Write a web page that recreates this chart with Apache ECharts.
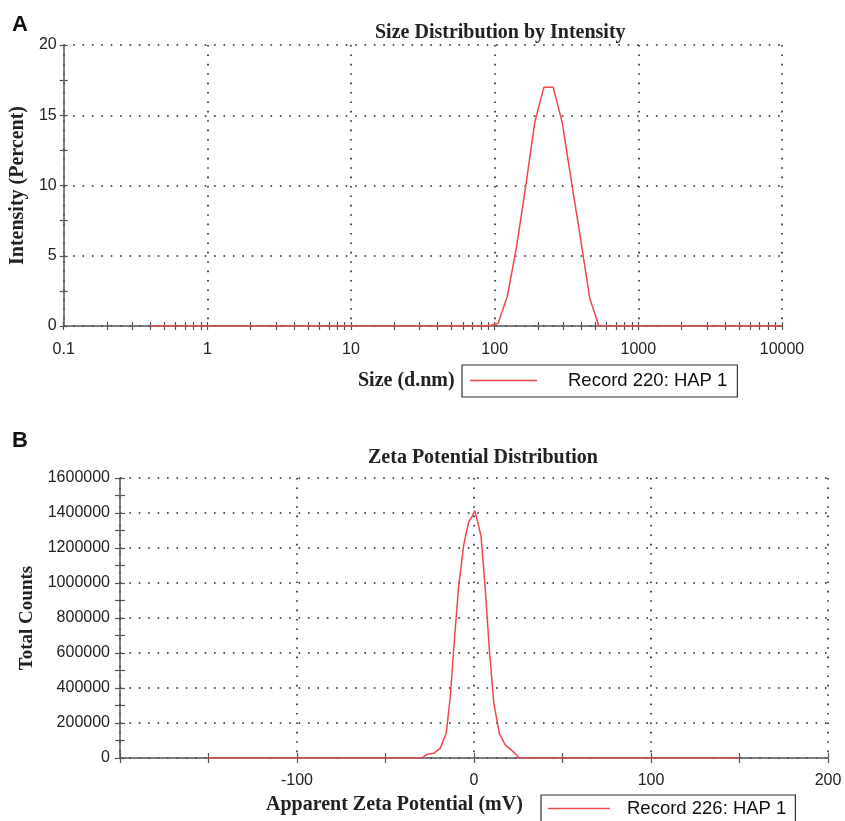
<!DOCTYPE html>
<html>
<head>
<meta charset="utf-8">
<script src="https://cdn.jsdelivr.net/npm/echarts@6/dist/echarts.min.js"></script>
<style>
  html,body{margin:0;padding:0;background:#fff;}
  #main{width:845px;height:821px;}
</style>
</head>
<body>
<div id="main"></div>
<script>
// panel A: size distribution by intensity
const sizeNm = [0.4, 91.28, 105.7, 122.4, 141.8, 164.2, 190.1, 220.2, 255.0, 295.3, 342.0, 396.1, 458.7, 531.2, 10000];
const intensity = [0, 0, 0.2, 2.1, 5.6, 9.9, 14.5, 17.0, 17.0, 14.5, 10.3, 6.2, 2.0, 0, 0];
const sizeDecades = [0.1, 1, 10, 100, 1000, 10000];
const sizeMinorTicks = [0.2,0.3,0.4,0.5,0.6,0.7,0.8,0.9,2,3,4,5,6,7,8,9,20,30,40,50,60,70,80,90,
    200,300,400,500,600,700,800,900,2000,3000,4000,5000,6000,7000,8000,9000];

// panel B: zeta potential distribution
const zetaMv = [-150, -29.5, -26.6, -22.8, -19.1, -15.7, -13.4, -11.5, -8.7, -5.8, -3.0, -1.1, 0.4, 2.3, 4.0, 6.4, 8.7, 11.2, 14.3, 17.7, 21.5, 25.7, 150];
const totalCounts = [0, 0, 21000, 27000, 55000, 141000, 350000, 617000, 979000, 1217000, 1350000, 1379000, 1413000,
    1341000, 1265000, 960000, 617000, 313000, 141000, 74000, 42000, 0, 0];

const RED = '#f04848';
const AXIS = '#555';
const SANS = 'Liberation Sans';
const SERIF = 'Liberation Serif';

function pairs(xs, ys){
    return xs.map((x,i)=>[x, ys[i]]);
}

const dotted = {show:true, lineStyle:{color:'#222', width:1.6, type:[1.6,7.8]}};
const tickLabel = {color:'#222', fontFamily:SANS, fontSize:16};
const headText = {fontFamily:SERIF, fontWeight:'bold', fontSize:20, color:'#222'};
const letterText = {fontFamily:SANS, fontWeight:'bold', fontSize:22, color:'#111'};
const legendText = {fontFamily:SANS, fontSize:18.5, color:'#111', lineHeight:19};
const tickStyle = {color:AXIS, width:1.2};

// an extra axis that only draws the inner half of the ticks, so they cross the axis line
function innerTicks(base){
    return Object.assign({
        axisLine:{show:false, onZero:false},
        axisLabel:{show:false},
        splitLine:{show:false}
    }, base);
}

let myChart = echarts.init(document.getElementById('main'));
let option = {
    backgroundColor:'#fff',
    animation:false,
    title:[
        {text:'A', left:12, top:14, padding:0, textStyle:letterText},
        {text:'Size Distribution by Intensity', left:375, top:23, padding:0, textStyle:headText},
        {text:'Size (d.nm)', left:358, top:371, padding:0, textStyle:headText},
        {text:'B', left:12, top:430, padding:0, textStyle:letterText},
        {text:'Zeta Potential Distribution', left:368, top:448, padding:0, textStyle:headText},
        {text:'Apparent Zeta Potential (mV)', left:266, top:795, padding:0, textStyle:headText}
    ],
    legend:[
        {
            data:['Record 220: HAP 1'],
            left:462, top:365,
            padding:[6,10,7,8],
            borderColor:'#333', borderWidth:1.2,
            icon:'rect', itemWidth:67, itemHeight:1.5,
            textStyle:Object.assign({padding:[0,0,0,26]}, legendText)
        },
        {
            data:['Record 226: HAP 1'],
            left:541, top:795,
            padding:[4,9,12,7],
            borderColor:'#333', borderWidth:1.2,
            icon:'rect', itemWidth:62, itemHeight:1.5,
            textStyle:Object.assign({padding:[0,0,0,12]}, legendText)
        }
    ],
    grid:[
        {left:62, right:63, top:45, bottom:495},
        {left:120, right:17, top:478, bottom:63}
    ],
    xAxis:[
        {
            type:'log', logBase:10, min:0.1, max:10000, gridIndex:0, position:'bottom',
            axisLine:{lineStyle:{color:AXIS, width:1.5}},
            axisTick:{show:true, length:4, lineStyle:tickStyle},
            axisLabel:Object.assign({margin:16, formatter:v=>String(v)}, tickLabel),
            splitLine:dotted
        },
        innerTicks({
            type:'log', logBase:10, min:0.1, max:10000, gridIndex:0, position:'bottom', offset:0,
            axisTick:{show:true, length:4, customValues:sizeMinorTicks, lineStyle:tickStyle}
        }),
        innerTicks({
            type:'log', logBase:10, min:0.1, max:10000, gridIndex:0, position:'bottom', offset:0,
            axisTick:{show:true, inside:true, length:4, customValues:sizeMinorTicks.concat(sizeDecades), lineStyle:tickStyle}
        }),
        {
            type:'value', min:-200, max:200, interval:100, gridIndex:1, position:'bottom',
            axisLine:{lineStyle:{color:AXIS, width:1.5}},
            axisTick:{show:true, length:5, lineStyle:tickStyle},
            minorTick:{show:true, splitNumber:2, length:5, lineStyle:tickStyle},
            axisLabel:Object.assign({margin:15, showMinLabel:false}, tickLabel),
            splitLine:dotted
        },
        innerTicks({
            type:'value', min:-200, max:200, interval:100, gridIndex:1, position:'bottom', offset:0,
            axisTick:{show:true, inside:true, length:5, lineStyle:tickStyle},
            minorTick:{show:true, splitNumber:2, length:5, lineStyle:tickStyle}
        })
    ],
    yAxis:[
        {
            type:'value', min:0, max:20, interval:5, gridIndex:0, position:'left',
            name:'Intensity (Percent)', nameLocation:'middle', nameGap:15,
            nameTextStyle:headText,
            axisLine:{show:true, onZero:false, lineStyle:{color:AXIS, width:1.5}},
            axisTick:{show:true, length:4, lineStyle:tickStyle},
            minorTick:{show:true, splitNumber:2, length:4, lineStyle:tickStyle},
            axisLabel:Object.assign({margin:7}, tickLabel),
            splitLine:dotted
        },
        innerTicks({
            type:'value', min:0, max:20, interval:5, gridIndex:0, position:'left', offset:0,
            axisTick:{show:true, inside:true, length:4, lineStyle:tickStyle},
            minorTick:{show:true, splitNumber:2, length:4, lineStyle:tickStyle}
        }),
        {
            type:'value', min:0, max:1600000, interval:200000, gridIndex:1, position:'left',
            name:'Total Counts', nameLocation:'middle', nameGap:72,
            nameTextStyle:Object.assign({}, headText, {fontSize:19}),
            axisLine:{show:true, onZero:false, lineStyle:{color:AXIS, width:1.5}},
            axisTick:{show:true, length:5, lineStyle:tickStyle},
            minorTick:{show:true, splitNumber:2, length:5, lineStyle:tickStyle},
            axisLabel:Object.assign({margin:10, formatter:v=>String(v)}, tickLabel),
            splitLine:dotted
        },
        innerTicks({
            type:'value', min:0, max:1600000, interval:200000, gridIndex:1, position:'left', offset:0,
            axisTick:{show:true, inside:true, length:5, lineStyle:tickStyle},
            minorTick:{show:true, splitNumber:2, length:5, lineStyle:tickStyle}
        })
    ],
    series:[
        {
            name:'Record 220: HAP 1', type:'line', xAxisIndex:0, yAxisIndex:0,
            data:pairs(sizeNm, intensity),
            showSymbol:false, z:5,
            lineStyle:{color:RED, width:1.5}, itemStyle:{color:RED}
        },
        {
            name:'Record 226: HAP 1', type:'line', xAxisIndex:3, yAxisIndex:2,
            data:pairs(zetaMv, totalCounts),
            showSymbol:false, z:5,
            lineStyle:{color:RED, width:1.5}, itemStyle:{color:RED}
        }
    ]
};
myChart.setOption(option);
</script>
</body>
</html>
